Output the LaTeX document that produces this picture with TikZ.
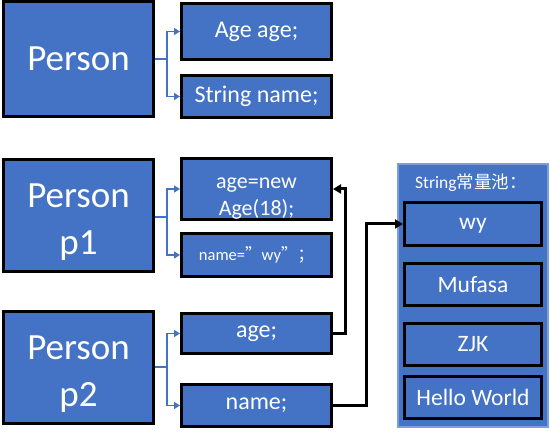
\documentclass[tikz,border=0pt]{standalone}
\usepackage{fontspec}
\setmainfont{Carlito}
\newfontfamily\cjk{Noto Sans CJK SC}
\usetikzlibrary{arrows.meta}
\definecolor{fillblue}{HTML}{4472C4}
\definecolor{lineblue}{HTML}{4472C4}
\definecolor{poolborder}{HTML}{7A9FDA}
\tikzset{
  box/.style={draw=black, line width=3pt, fill=fillblue, text=white, align=center, inner sep=1pt},
  big/.style={box, minimum width=150pt, font=\fontsize{37}{47}\selectfont},
  field/.style={box, minimum width=150pt, font=\fontsize{24}{26}\selectfont},
  pooli/.style={box, minimum width=137pt, minimum height=43pt, font=\fontsize{23.5}{26}\selectfont},
  bl/.style={draw=lineblue, line width=1.6pt, -{Triangle[length=6pt,width=7pt]}},
  ref/.style={draw=black, line width=3pt, -{Triangle[length=8pt,width=9pt]}}
}
\begin{document}
\begin{tikzpicture}[x=1pt,y=-1pt]
\useasboundingbox (0,0) rectangle (550,435);
% group 1
\node[big, minimum height=115pt] (P) at (78.5,59) {Person};
\node[field, minimum height=56pt] (Pa) at (256.5,31.5) {Age age;};
\node[field, minimum height=42pt] (Pn) at (256.5,96.5) {String name;};
% group 2
\node[big, minimum height=112pt] (P1) at (78.5,215.5) {\rule{0pt}{36pt}Person\\p1};
\node[field, minimum height=55pt, font=\fontsize{22}{27}\selectfont] (A1) at (256.5,189) {\rule{0pt}{29pt}age=new\\Age(18);};
\node[field, minimum height=43pt, font=\fontsize{16.5}{19}\selectfont] (N1) at (256.5,255) {name={\cjk ”}wy{\cjk ”；}};
% group 3
\node[big, minimum height=112pt] (P2) at (78.5,367.5) {\rule{0pt}{36pt}Person\\p2};
\node[field, minimum height=40pt] (A2) at (256.5,333.5) {age;};
\node[field, minimum height=42pt] (N2) at (256.5,405.5) {name;};
% pool
\node[draw=poolborder, line width=1.5pt, fill=fillblue, minimum width=150pt, minimum height=263pt] (pool) at (473,295.5) {};
\node[text=white, font=\fontsize{17.5}{19}\selectfont, anchor=west, inner sep=0pt] (title) at (415,183) {String{\cjk 常量池：}};
\node[pooli, text height=17pt, text depth=5pt] (wy) at (473,224) {wy};
\node[pooli, minimum height=42pt] (mu) at (473,284.5) {Mufasa};
\node[pooli, minimum height=42pt] (zjk) at (473,344.5) {ZJK};
\node[pooli, minimum height=42pt] (hw) at (473,397.5) {Hello World};
% blue connectors
\coordinate (j0) at (167,59);
\coordinate (j1) at (167,217);
\coordinate (j2) at (167,367);
\draw[line width=1.6pt, lineblue] (P.east |- j0) -- (j0);
\draw[bl] (j0) |- (Pa.west);
\draw[bl] (j0) |- (Pn.west);
\draw[line width=1.6pt, lineblue] (P1.east |- j1) -- (j1);
\draw[bl] (j1) |- (A1.west);
\draw[bl] (j1) |- (N1.west);
\draw[line width=1.6pt, lineblue] (P2.east |- j2) -- (j2);
\draw[bl] (j2) |- (A2.west);
\draw[bl] (j2) |- (N2.west);
% black references
\coordinate (r1) at (345,333.5);
\coordinate (r2) at (366,406);
\draw[ref] (A2.east) -- (r1) |- (A1.east);
\draw[ref] (N2.east |- r2) -- (r2) |- (wy.west);
\end{tikzpicture}
\end{document}
